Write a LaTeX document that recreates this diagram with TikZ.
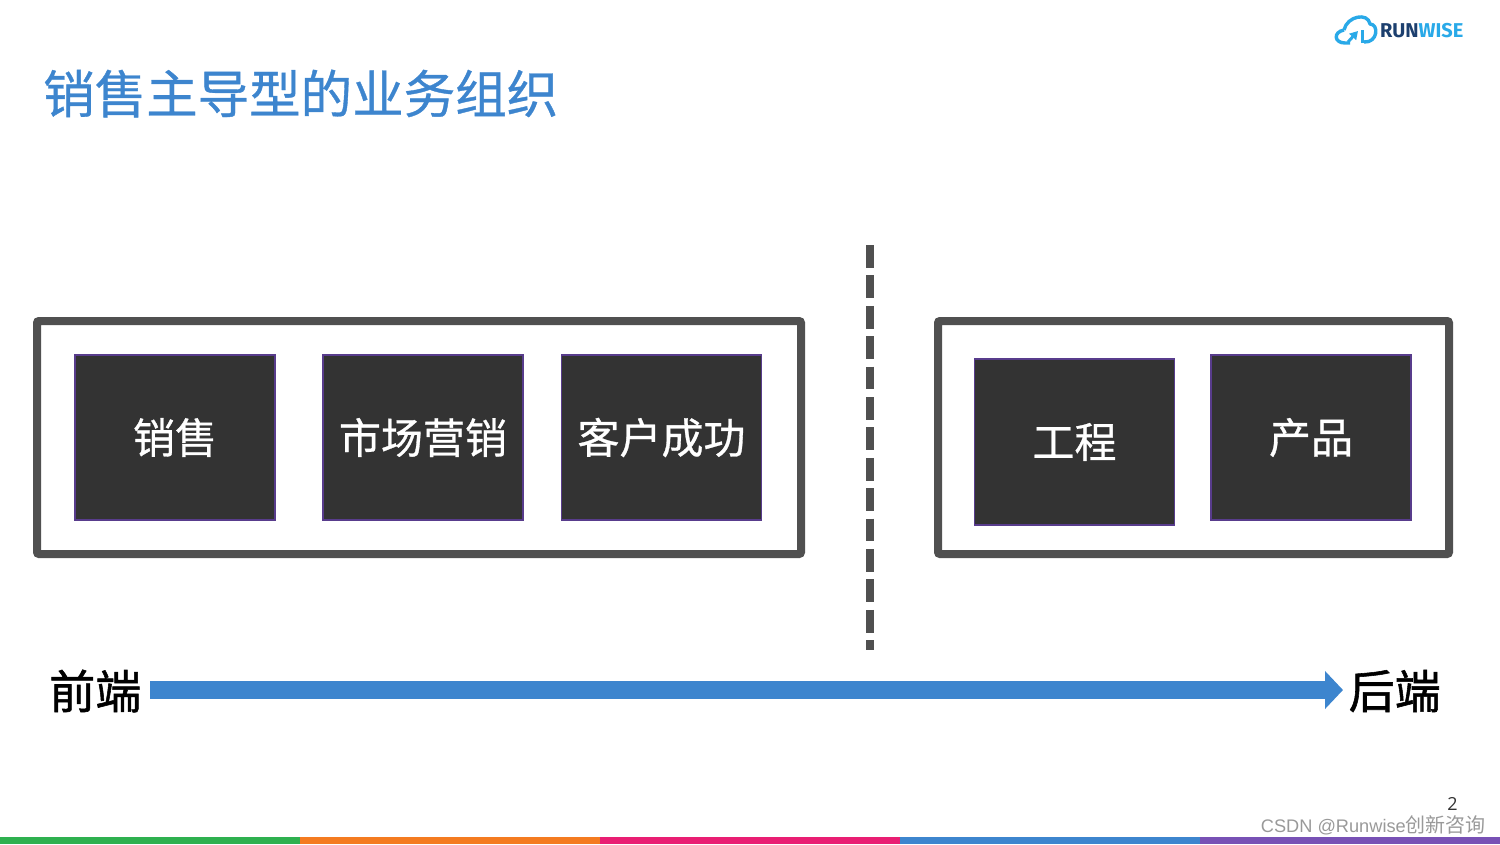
\documentclass[tikz,border=0pt]{standalone}
\usepackage{fontspec}
\setmainfont{Noto Sans CJK SC}
\newfontfamily\semicjk[FakeBold=0.7]{Noto Sans CJK SC}
\newfontfamily\heavycjk[FakeBold=1.2]{Noto Sans CJK SC}
\newfontfamily\latinfont{Open Sans}
\newfontfamily\markfont{Liberation Sans}
\newfontfamily\logofont{Fira Sans}
\usetikzlibrary{arrows.meta}
\definecolor{titleblue}{HTML}{3D85CE}
\definecolor{framegray}{HTML}{505050}
\definecolor{boxgray}{HTML}{333333}
\definecolor{boxedge}{HTML}{583C8C}
\definecolor{logoblue}{HTML}{29A9E8}
\definecolor{logonavy}{HTML}{1C3F6E}
\tikzset{
  groupbox/.style={draw=framegray,line width=8pt,rounded corners=2pt},
  teambox/.style={draw=boxedge,line width=1.5pt,fill=boxgray,text=white,inner sep=0pt,
    minimum width=200pt,minimum height=165pt,font=\fontsize{42}{42}\selectfont\semicjk},
  endlabel/.style={inner sep=0pt,font=\fontsize{46}{46}\selectfont\heavycjk}
}
\begin{document}
\begin{tikzpicture}[x=1pt,y=-1pt]
\useasboundingbox (0,0) rectangle (1500,844);

% title
\node[anchor=west,inner sep=0pt,text=titleblue,font=\fontsize{51.5}{51.5}\selectfont\semicjk] (title) at (43,93.5) {销售主导型的业务组织};

% logo
\draw[logoblue,line width=3.4pt,line join=round] (1344,30) .. controls (1347,16) and (1368,12) .. (1370,24) .. controls (1379,24) and (1378,43) .. (1364,42);
\draw[logoblue,line width=3.4pt] (1344,30) .. controls (1333,32) and (1334,43) .. (1345,43) -- (1350,43);
\draw[logoblue,line width=3pt] (1362,43) -- (1362,30);
\draw[logoblue,line width=3pt,-{Triangle[length=8pt,width=9pt]}] (1348,42) -- (1358,31);
\node[anchor=west,inner sep=0pt,font=\fontsize{20}{20}\selectfont\logofont\bfseries] (logo) at (1380,31) {\textcolor{logonavy}{RUN}\textcolor{logoblue}{WISE}};

% groups
\draw[groupbox] (37,321) rectangle (801,554);
\draw[groupbox] (938,321) rectangle (1449,554);

\node[teambox] (sales) at (175,437.5) {销售};
\node[teambox] (market) at (423,437.5) {市场营销};
\node[teambox] (success) at (661.5,437.5) {客户成功};
\node[teambox,minimum height=166pt] (eng) at (1074.5,442) {工程};
\node[teambox] (prod) at (1311,437.5) {产品};

% divider
\coordinate (divtop) at (870,245);
\coordinate (divbot) at (870,650);
\draw[framegray,line width=8pt,dash pattern=on 22.8pt off 7.6pt] (divtop) -- (divbot);

% front to back
\node[endlabel,anchor=east] (front) at (141.5,691) {前端};
\node[endlabel,anchor=west] (back) at (1348.5,691) {后端};
\coordinate (arrstart) at (150,690);
\coordinate (arrend) at (1343,690);
\draw[titleblue,line width=18pt,-{Triangle[length=18pt,width=37pt]}] (arrstart) -- (arrend);

% page number and mark
\node[inner sep=0pt,text=boxgray,font=\fontsize{18}{18}\selectfont\latinfont] (page) at (1452.5,804) {2};
\node[anchor=east,inner sep=0pt,text=gray!80,font=\fontsize{20}{20}\selectfont] (mark) at (1486,825) {{\fontsize{18.2}{18.2}\selectfont\markfont CSDN @Runwise}创新咨询};

% bottom strip
\foreach \a/\c in {0/2EB04F,300/F47B20,600/E91E73,900/3D85CE,1200/7851B5}{
  \definecolor{stripc}{HTML}{\c}
  \fill[stripc] (\a,837) rectangle (\a+300,844);
}
\end{tikzpicture}
\end{document}
